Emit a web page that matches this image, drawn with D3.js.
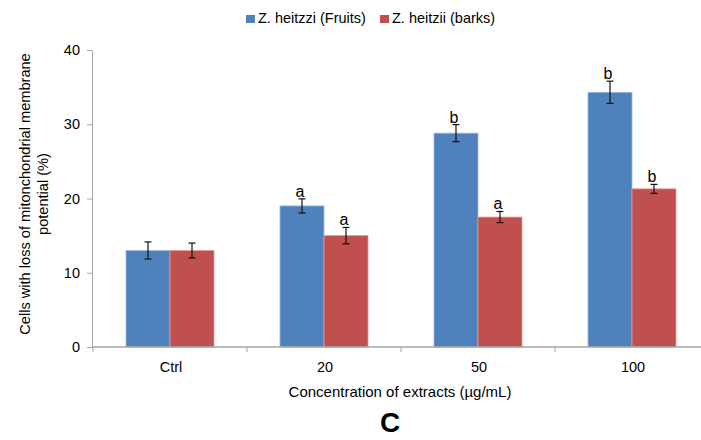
<!DOCTYPE html>
<html><head><meta charset="utf-8">
<script src="https://cdn.jsdelivr.net/npm/d3@7"></script>
<style>body{margin:0;background:#fff}svg{display:block;font-family:"Liberation Sans",Arial,sans-serif}</style>
</head><body><svg id="c" width="701" height="440"></svg>
<script>
const categories = ["Ctrl", "20", "50", "100"];
const seriesNames = ["Z. heitzzi (Fruits)", "Z. heitzii (barks)"];
const fruits = [13.0, 19.0, 28.8, 34.3];
const barks = [13.0, 15.0, 17.5, 21.3];
const fruitsErr = [1.15, 0.95, 1.15, 1.5];
const barksErr = [1.0, 1.1, 0.75, 0.6];
const fruitsLetters = ["", "a", "b", "b"];
const barksLetters = ["", "a", "a", "b"];
const yTicks = [0, 10, 20, 30, 40];
const colors = ["#4F81BD", "#C0504D"];

const svg = d3.select("#c");
const x0 = d3.scaleBand().domain(categories).range([93, 709]).paddingInner(0).paddingOuter(0);
const y = d3.scaleLinear().domain([0, 40]).range([347, 50]);

const series = [
  {vals: fruits, err: fruitsErr, let: fruitsLetters},
  {vals: barks, err: barksErr, let: barksLetters}
];
const groupW = x0.bandwidth() * 88 / 154;
const barW = groupW / 2;

// y axis
const yAxis = d3.axisLeft(y).tickValues(yTicks).tickSize(5).tickPadding(7);
const gy = svg.append("g").attr("transform", "translate(92,0)").call(yAxis);
gy.select(".domain").attr("stroke", "#a6a6a6");
gy.selectAll(".tick line").attr("stroke", "#a6a6a6");
gy.selectAll("text").attr("font-size", 14.5).attr("fill", "#000").attr("font-family", "Liberation Sans, Arial, sans-serif");

// bars
series.forEach((s, i) => {
  svg.append("g").selectAll("rect").data(categories).join("rect")
    .attr("x", c => x0(c) + (x0.bandwidth() - groupW) / 2 + i * barW)
    .attr("y", (c, k) => y(s.vals[k]))
    .attr("width", barW)
    .attr("height", (c, k) => y(0) - y(s.vals[k]))
    .attr("fill", colors[i])
    .attr("stroke", i === 0 ? "#9db8dc" : "#e09b99")
    .attr("stroke-width", 0.8);
});

// x axis
const xAxisG = svg.append("g");
xAxisG.append("line").attr("x1", 92).attr("x2", 701).attr("y1", y(0)).attr("y2", y(0))
  .attr("stroke", "#a6a6a6").attr("stroke-width", 1.5);
xAxisG.selectAll("line.t").data(categories.concat(["end"])).join("line").attr("class", "t")
  .attr("x1", (c, k) => 93 + k * x0.bandwidth()).attr("x2", (c, k) => 93 + k * x0.bandwidth())
  .attr("y1", y(0)).attr("y2", y(0) + 5).attr("stroke", "#a6a6a6");
xAxisG.selectAll("text").data(categories).join("text")
  .attr("x", c => x0(c) + x0.bandwidth() / 2 + 1).attr("y", 372)
  .attr("text-anchor", "middle").attr("font-size", 14.5).text(c => c);

// error bars + letters
series.forEach((s, i) => {
  const g = svg.append("g");
  categories.forEach((c, k) => {
    const cx = x0(c) + (x0.bandwidth() - groupW) / 2 + i * barW + barW / 2;
    const top = y(s.vals[k] + s.err[k]), bot = y(s.vals[k] - s.err[k]);
    g.append("line").attr("x1", cx).attr("x2", cx).attr("y1", top).attr("y2", bot).attr("stroke", "#111").attr("stroke-width", 1.2);
    g.append("line").attr("x1", cx - 3.5).attr("x2", cx + 3.5).attr("y1", top).attr("y2", top).attr("stroke", "#111").attr("stroke-width", 1.2);
    g.append("line").attr("x1", cx - 3.5).attr("x2", cx + 3.5).attr("y1", bot).attr("y2", bot).attr("stroke", "#111").attr("stroke-width", 1.2);
    if (s.let[k]) {
      g.append("text").attr("x", cx - 2).attr("y", top - 2).attr("text-anchor", "middle")
        .attr("font-size", 16).text(s.let[k]);
    }
  });
});

// y title
const yt = svg.append("text").attr("transform", "translate(30,194) rotate(-90)")
  .attr("text-anchor", "middle").attr("font-size", 14.6);
yt.append("tspan").attr("x", 0).attr("dy", 0).text("Cells with loss of mitonchondrial membrane");
yt.append("tspan").attr("x", 0).attr("dy", 18).text("potential (%)");

// x title
svg.append("text").attr("x", 400).attr("y", 397).attr("text-anchor", "middle").attr("font-size", 15)
  .text("Concentration of extracts (µg/mL)");
svg.append("text").attr("x", 390).attr("y", 432).attr("text-anchor", "middle").attr("font-size", 28)
  .attr("font-weight", "bold").text("C");

// legend
const leg = svg.append("g");
const legX = [246, 380];
seriesNames.forEach((n, i) => {
  leg.append("rect").attr("x", legX[i]).attr("y", 15).attr("width", 9).attr("height", 8).attr("fill", colors[i]);
  leg.append("text").attr("x", legX[i] + 12).attr("y", 23).attr("font-size", 14.5).text(n);
});
</script></body></html>
